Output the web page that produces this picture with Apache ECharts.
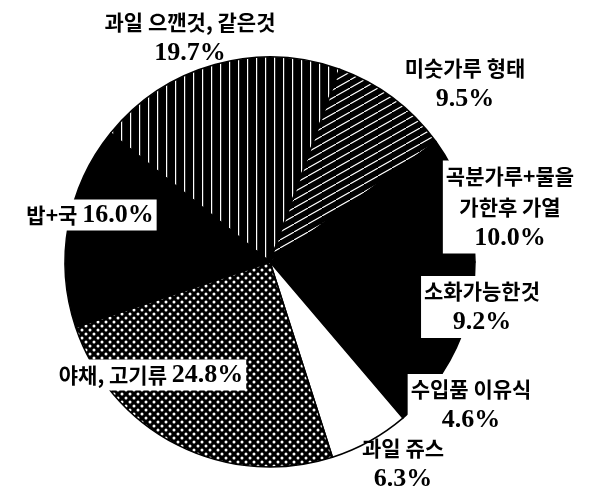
<!DOCTYPE html>
<html>
<head>
<meta charset="utf-8">
<script src="https://cdn.jsdelivr.net/npm/echarts@6/dist/echarts.min.js"></script>
<style>
  html, body { margin: 0; padding: 0; background: #fff; }
</style>
</head>
<body>
<div id="chart" style="width: 598px; height: 493px;"></div>
<script>
// 자료: 이유식 종류별 비율 (%)
const categories = [
  '과일 으깬것, 같은것',
  '미숫가루 형태',
  '곡분가루+물을\n가한후 가열',
  '소화가능한것',
  '수입품 이유식',
  '과일 쥬스',
  '야채, 고기류',
  '밥+국'
];
const values = [19.7, 9.5, 10.0, 9.2, 4.6, 6.3, 24.8, 16.0];
// 한 줄로 쓰는 라벨
const inlineLabels = ['야채, 고기류', '밥+국'];
// 파이 위에 겹치는 라벨 (흰 바탕)
const boxedLabels = [2, 3, 4, 6, 7];

// 라벨 위치 (중심)
const labelPos = [
  [190, 38], [465, 84], [510, 207], [482, 307],
  [471, 405], [403, 464], [151, 375], [90, 215]
];

// 흑백 무늬 만들기
function makePattern(w, h, draw) {
  const c = document.createElement('canvas');
  c.width = w;
  c.height = h;
  const ctx = c.getContext('2d');
  ctx.fillStyle = '#000';
  ctx.fillRect(0, 0, w, h);
  ctx.fillStyle = '#fff';
  ctx.strokeStyle = '#fff';
  draw(ctx);
  return { image: c, repeat: 'repeat' };
}

const vLines = makePattern(9, 4, ctx => {
  ctx.fillRect(4, 0, 1.2, 4);
});
const diagLines = makePattern(14, 8, ctx => {
  ctx.lineWidth = 1.1;
  ctx.beginPath();
  ctx.moveTo(-14, 16); ctx.lineTo(28, -8);
  ctx.stroke();
});
const dots = makePattern(8, 8, ctx => {
  ctx.beginPath(); ctx.arc(2, 2, 1.5, 0, Math.PI * 2); ctx.fill();
  ctx.beginPath(); ctx.arc(6, 6, 1.5, 0, Math.PI * 2); ctx.fill();
});

const fills = [vLines, diagLines, '#000', '#000', '#000', '#fff', dots, '#000'];

const chart = echarts.init(document.getElementById('chart'));

const option = {
  animation: false,
  backgroundColor: '#fff',
  series: [
    {
      type: 'pie',
      center: [270, 262],
      radius: 205,
      startAngle: 141,
      clockwise: true,
      avoidLabelOverlap: false,
      itemStyle: {
        borderColor: '#000',
        borderWidth: 1.5
      },
      label: {
        show: true,
        position: 'outside',
        color: '#000',
        align: 'center',
        padding: [0, 3],
        lineHeight: 31,
        formatter: p => {
          const val = '{v|' + p.value.toFixed(1) + '%}';
          if (inlineLabels.includes(p.name)) {
            return '{n|' + p.name + ' }' + val;
          }
          const name = p.name.split('\n').map(s => '{n|' + s + '}');
          return name.join('\n') + '\n' + val;
        },
        rich: {
          n: {
            fontFamily: '"Noto Sans CJK KR", sans-serif',
            fontWeight: 'bold',
            fontSize: 21,
            lineHeight: 31
          },
          v: {
            fontFamily: '"Liberation Serif", serif',
            fontWeight: 'bold',
            fontSize: 26,
            lineHeight: 31
          }
        }
      },
      labelLine: { show: false },
      labelLayout: params => ({
        x: labelPos[params.dataIndex][0],
        y: labelPos[params.dataIndex][1],
        align: 'center',
        verticalAlign: 'middle'
      }),
      data: categories.map((name, i) => ({
        name: name,
        value: values[i],
        label: boxedLabels.includes(i) ? { backgroundColor: '#fff' } : {},
        itemStyle: { color: fills[i] }
      }))
    }
  ]
};

chart.setOption(option);
</script>
</body>
</html>
